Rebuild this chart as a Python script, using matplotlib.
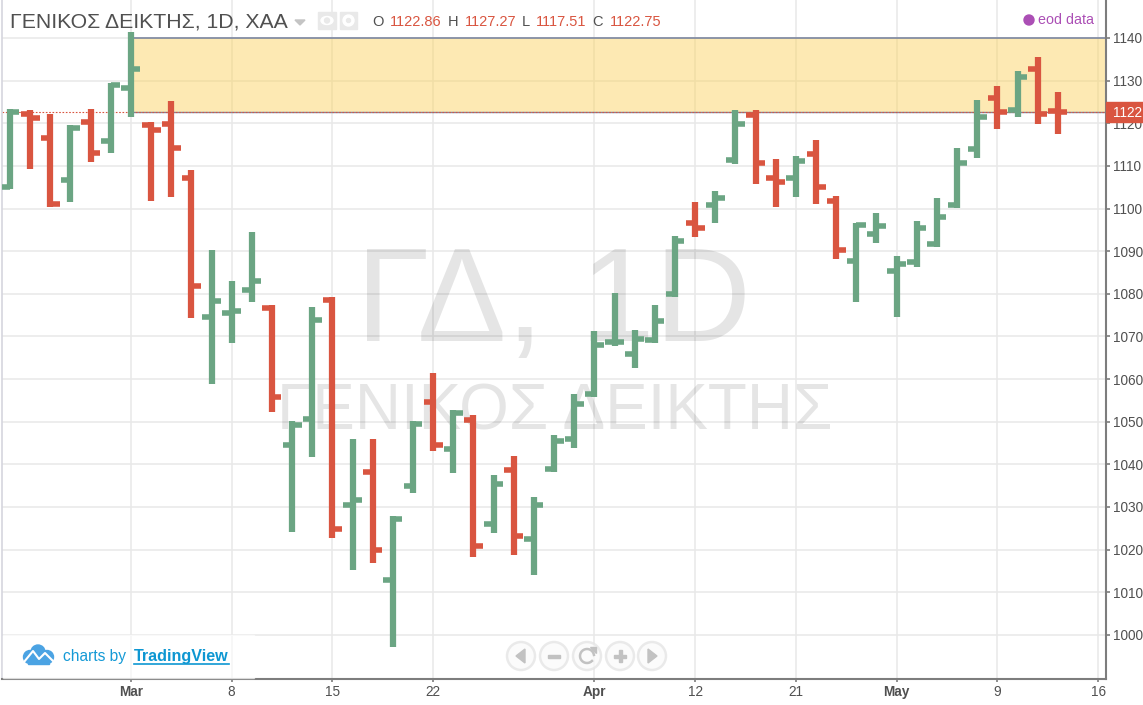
import numpy as np
import matplotlib
matplotlib.use('Agg')
import matplotlib.pyplot as plt
from matplotlib.patches import Rectangle, Circle, Ellipse, Polygon

plt.rcParams['font.family'] = ['Liberation Sans', 'DejaVu Sans']

# daily bars
opens = [1105.04, 1122.17, 1116.54, 1106.69, 1120.29, 1115.83, 1128.27, 1119.59, 1119.82, 1107.15,
         1074.55, 1075.49, 1080.88, 1076.66, 1044.52, 1050.62, 1078.54, 1030.45, 1038.19, 1012.85,
         1034.90, 1054.61, 1043.58, 1050.39, 1025.99, 1038.66, 1022.47, 1038.89, 1045.93, 1056.49,
         1068.68, 1065.87, 1069.15, 1079.94, 1096.60, 1100.82, 1111.38, 1121.93, 1107.15, 1107.15,
         1112.78, 1101.76, 1087.68, 1094.02, 1085.34, 1087.45, 1091.67, 1100.82, 1113.96, 1125.92,
         1123.11, 1132.72, 1122.86]
highs = [1123.34, 1123.11, 1122.17, 1119.59, 1123.34, 1129.44, 1141.40, 1120.29, 1125.22, 1109.03,
         1090.26, 1082.99, 1094.49, 1077.36, 1050.15, 1076.89, 1079.24, 1045.93, 1045.93, 1027.87,
         1050.15, 1061.41, 1052.73, 1051.56, 1037.48, 1041.94, 1032.32, 1046.87, 1056.49, 1071.26,
         1080.18, 1071.50, 1077.36, 1093.55, 1101.52, 1104.11, 1123.11, 1123.11, 1111.61, 1112.32,
         1116.07, 1102.93, 1096.60, 1098.94, 1088.86, 1097.07, 1102.46, 1114.19, 1125.45, 1128.74,
         1132.25, 1135.54, 1127.27]
lows = [1104.57, 1109.27, 1100.35, 1101.52, 1110.91, 1113.02, 1121.46, 1101.76, 1102.70, 1074.31,
        1058.83, 1068.45, 1078.07, 1052.26, 1024.11, 1041.71, 1022.71, 1015.20, 1016.84, 997.14,
        1033.26, 1043.11, 1037.95, 1018.25, 1023.88, 1018.72, 1014.03, 1038.19, 1043.82, 1055.78,
        1067.75, 1062.58, 1068.45, 1079.24, 1093.31, 1096.60, 1110.44, 1105.75, 1100.35, 1102.70,
        1101.06, 1088.15, 1078.07, 1091.91, 1074.55, 1086.28, 1090.97, 1100.12, 1111.85, 1118.65,
        1121.46, 1119.82, 1117.51]
closes = [1122.64, 1121.23, 1101.06, 1118.88, 1113.02, 1128.97, 1132.72, 1118.41, 1114.19, 1081.82,
          1078.30, 1075.96, 1082.99, 1055.78, 1049.21, 1073.84, 1024.82, 1031.62, 1019.89, 1027.16,
          1049.45, 1044.52, 1052.03, 1020.83, 1035.37, 1023.17, 1030.45, 1045.46, 1054.14, 1067.98,
          1068.68, 1069.39, 1073.61, 1092.38, 1095.43, 1102.46, 1119.82, 1110.67, 1106.22, 1111.14,
          1105.04, 1090.26, 1096.13, 1095.89, 1086.98, 1095.43, 1098.01, 1110.67, 1121.46, 1122.64,
          1130.85, 1122.17, 1122.75]

x_tick_pos = [6, 11, 16, 21, 29, 34, 39, 44, 49, 54]
x_tick_labels = ['Mar', '8', '15', '22', 'Apr', '12', '21', 'May', '9', '16']
month_labels = ['Mar', 'Apr', 'May']
y_ticks = list(range(1000, 1150, 10))

zone_start = 6
zone_top = 1140
zone_bottom = 1122.75

GREEN = '#6ba583'
RED = '#d95540'
GRID = '#e8e8e8'
AXIS = '#7d7d7d'
TEXT = '#505050'

W, H = 1143, 705
fig = plt.figure(figsize=(W / 100, H / 100), dpi=100)
ax = fig.add_axes([2 / W, (H - 679) / H, 1104 / W, 679 / H])
ax.set_xlim(-0.397, 54.39)
ax.set_ylim(989.63, 1148.91)

ax.set_yticks(y_ticks)
ax.set_xticks(x_tick_pos)
ax.set_xticklabels(x_tick_labels)
ax.yaxis.tick_right()
ax.grid(True, color=GRID, lw=1.1, zorder=0)
ax.set_axisbelow(True)
ax.tick_params(axis='y', length=3, width=1.2, color=AXIS, labelcolor=TEXT, labelsize=9.8, pad=2)
ax.tick_params(axis='x', length=2.5, width=1.2, color=AXIS, labelcolor=TEXT, labelsize=9.8, pad=1.5)
for lab in ax.get_xticklabels() + ax.get_yticklabels():
    lab.set_fontweight('bold' if lab.get_text() in month_labels else 'normal')
ax.spines['top'].set_visible(False)
ax.spines['right'].set_color(AXIS)
ax.spines['bottom'].set_color(AXIS)
ax.spines['right'].set_linewidth(1.5)
ax.spines['bottom'].set_linewidth(1.5)
ax.spines['left'].set_color('#d5d5de')
ax.spines['left'].set_linewidth(1.2)

# watermark
ax.text(0.5, 0.498, 'ΓΔ, 1D', transform=ax.transAxes, fontsize=96, color='#000000', alpha=0.1,
        ha='center', va='baseline', zorder=1)
ax.text(0.5009, 0.368, 'ΓΕΝΙΚΟΣ ΔΕΙΚΤΗΣ', transform=ax.transAxes, fontsize=46, color='#000000', alpha=0.1,
        ha='center', va='baseline', zorder=1)

# zone
ax.add_patch(Rectangle((zone_start, zone_bottom), ax.get_xlim()[1] - zone_start, zone_top - zone_bottom,
                       facecolor='#fbd25e', alpha=0.47, edgecolor='none', zorder=1.5))
ax.plot([zone_start, ax.get_xlim()[1]], [zone_top, zone_top], color='#7b86a0', lw=1.2, zorder=1.6)
ax.plot([zone_start, ax.get_xlim()[1]], [zone_bottom, zone_bottom], color='#7b86a0', lw=1.0, zorder=1.6)
ax.axhline(closes[-1], color=RED, lw=0.8, ls=(0, (1.5, 1.5)), zorder=1.7)

# bars
idx = np.arange(len(opens))
o = np.array(opens)
c = np.array(closes)
cols = [RED if c[i] < o[i] else GREEN for i in idx]
ax.vlines(idx, lows, highs, colors=cols, lw=4.5, zorder=3, capstyle='butt')
ax.hlines(opens, idx - 0.47, idx, colors=cols, lw=4.0, zorder=3, capstyle='butt')
ax.hlines(closes, idx, idx + 0.47, colors=cols, lw=4.0, zorder=3, capstyle='butt')

# overlay in pixels for the page furniture
ov = fig.add_axes([0, 0, 1, 1], zorder=5)
ov.set_xlim(0, W)
ov.set_ylim(H, 0)
ov.axis('off')

ov.text(10, 21.5, 'ΓΕΝΙΚΟΣ ΔΕΙΚΤΗΣ, 1D, ΧΑΑ', fontsize=15.3, color=TEXT, va='center')
ov.add_patch(Polygon([(295, 20), (305, 20), (300, 25)], color='#c4c4c4'))
ov.add_patch(Rectangle((318, 12), 18, 17, color='#e9e9e9'))
ov.add_patch(Ellipse((327, 20.5), 12, 8, color='white'))
ov.add_patch(Circle((327, 20.5), 2.5, color='#e9e9e9'))
ov.add_patch(Rectangle((340, 12), 17, 17, color='#e9e9e9'))
ov.add_patch(Circle((348.5, 20.5), 5.5, color='white'))
ov.add_patch(Circle((348.5, 20.5), 2, color='#e9e9e9'))

ohlc_names = ['O', 'H', 'L', 'C']
ohlc_vals = [opens[-1], highs[-1], lows[-1], closes[-1]]
name_x = [372, 448, 522, 592]
val_x = [390, 465, 536, 610]
for nm, v, nx, vx in zip(ohlc_names, ohlc_vals, name_x, val_x):
    ov.text(nx, 22.5, nm, fontsize=10.5, color=TEXT, va='center')
    ov.text(vx, 22.5, '%.2f' % v, fontsize=10.5, color=RED, va='center')

ov.add_patch(Circle((1029, 20), 5, color='#ab4fb5'))
ov.text(1037.5, 20.5, 'eod data', fontsize=10.3, color='#ab4fb5', va='center')

# last price label
ov.add_patch(Rectangle((1106, 102), 37, 20, color=RED))
ov.text(1113, 113, '%d' % closes[-1], fontsize=9.8, color='white', va='center')

# footer
ov.add_patch(Rectangle((3, 635), 251, 43, color='white', alpha=0.6))
blue = '#4ba3e3'
for cx, cy, r in [(30, 657, 6.5), (38, 652, 7), (47, 657, 6.5)]:
    ov.add_patch(Circle((cx, cy), r, color=blue))
ov.add_patch(Rectangle((28, 656), 21, 8, color=blue))
ov.plot([24, 33, 39, 45, 54], [662, 651, 659, 653, 662], color='white', lw=1.5)
ov.text(63, 656, 'charts by', fontsize=11.2, color='#159ad6', va='center')
ov.text(134, 656, 'TradingView', fontsize=11.6, color='#0e97d2', va='center', fontweight='bold')
ov.plot([134, 229], [663.5, 663.5], color='#0e97d2', lw=1.2)

# navigation buttons
for bx in [521, 554, 587, 620, 652]:
    ov.add_patch(Circle((bx, 656), 14, facecolor='#fafafa', edgecolor='#e4e4e4', lw=1.8, alpha=0.75))
ICON = '#c2c2c2'
ov.add_patch(Polygon([(525, 649), (525, 663), (516, 656)], color=ICON))
ov.add_patch(Rectangle((548, 654.5), 12, 3, color=ICON))
ang = np.linspace(0.25 * np.pi, 1.95 * np.pi, 30)
ov.plot(587 + 7 * np.cos(ang), 656 + 7 * np.sin(ang), color=ICON, lw=1.8)
ov.add_patch(Polygon([(590, 647), (596, 647), (596, 653)], color=ICON))
ov.add_patch(Rectangle((614, 654.5), 12, 3, color=ICON))
ov.add_patch(Rectangle((618.5, 650), 3, 12, color=ICON))
ov.add_patch(Polygon([(648, 649), (648, 663), (657, 656)], color=ICON))

fig.savefig('out.png', dpi=100)
